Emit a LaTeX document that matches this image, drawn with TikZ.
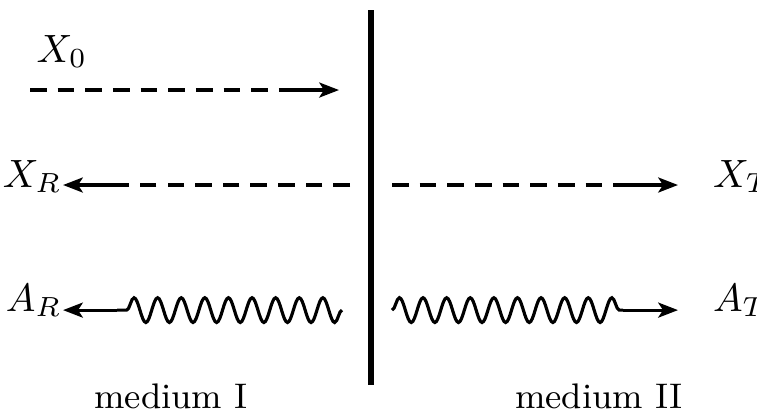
\documentclass[tikz,border=0pt]{standalone}
\usepackage{amsmath}
\usetikzlibrary{arrows.meta,decorations.pathmorphing}

\begin{document}
\begin{tikzpicture}[line width=0.8pt,>={Stealth[length=5pt,width=3.8pt,inset=1.2pt]},
  ray/.style={dash pattern=on 4.2pt off 2.8pt},
  wave/.style={decorate,decoration={snake,amplitude=0.11cm,segment length=0.21cm}},
  lbl/.style={inner sep=0pt}]
  \useasboundingbox (0,0) rectangle (6.735,3.666);
  % grenzflaeche
  \coordinate (top) at (3.301,3.577);
  \coordinate (bot) at (3.301,0.240);
  \draw[line width=1.5pt] (top)--(bot);
  \node[lbl,anchor=base west] (xinc) at (0.311,3.114){$X_0$};
  \node[lbl,anchor=base east] (xref) at (0.561,2.002){$X_R$};
  \node[lbl,anchor=base west] (xtra) at (6.33,2.002){$X_T$};
  \node[lbl,anchor=base east] (aref) at (0.561,0.899){$A_R$};
  \node[lbl,anchor=base west] (atra) at (6.33,0.899){$A_T$};
  \node[anchor=base] (med1) at (1.521,0.036){\small medium I};
  \node[anchor=base] (med2) at (5.329,0.036){\small medium II};
  % einfallend
  \coordinate (i0) at (0.267,2.865);
  \coordinate (i1) at (2.536,2.865);
  \coordinate (i2) at (3.016,2.865);
  \draw[ray] (i0)--(i1);
  \draw[->] (i1)--(i2);
  % reflektiert
  \coordinate (r0) at (3.114,2.020);
  \coordinate (r1) at (1.094,2.020);
  \draw[ray] (r0)--(r1);
  \draw[->] (r1)--(r1 -| xref.east);
  \coordinate (w0) at (3.043,0.907);
  \coordinate (w1) at (1.041,0.907);
  \draw[wave] (w0)--(w1);
  \draw[->] (w1)--(w1 -| aref.east);
  % transmittiert
  \coordinate (t0) at (3.488,2.020);
  \coordinate (t1) at (5.552,2.020);
  \coordinate (t2) at (6.032,2.020);
  \draw[ray] (t0)--(t1);
  \draw[->] (t1)--(t2);
  \coordinate (v0) at (3.488,0.907);
  \coordinate (v1) at (5.543,0.907);
  \coordinate (v2) at (6.032,0.907);
  \draw[wave] (v0)--(v1);
  \draw[->] (v1)--(v2);
\end{tikzpicture}
\end{document}
